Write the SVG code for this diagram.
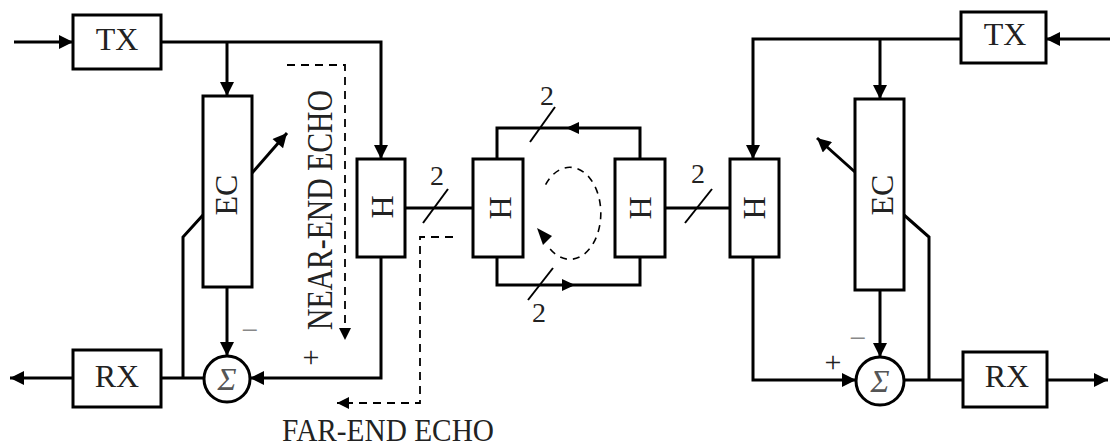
<svg xmlns="http://www.w3.org/2000/svg" width="1110" height="448" viewBox="0 0 1110 448">
<style>
.box{fill:#fff;stroke:#000;stroke-width:3}
.ln{fill:none;stroke:#000;stroke-width:3}
.sl{fill:none;stroke:#000;stroke-width:2}
.da{fill:none;stroke:#000;stroke-width:1.8;stroke-dasharray:8 6}
.dc{fill:none;stroke:#000;stroke-width:1.6;stroke-dasharray:7 6}
.t{font-family:"Liberation Serif","Times New Roman",serif;font-size:32px;fill:#222}
.s{font-family:"Liberation Serif","Times New Roman",serif;font-size:32px;fill:#555;font-style:italic}
.n{font-family:"Liberation Serif","Times New Roman",serif;font-size:28px;fill:#222}
.m{font-family:"Liberation Serif","Times New Roman",serif;font-size:30px;fill:#222}
.g{fill:#888}
.ah{fill:#000}
</style>
<defs>
<marker id="arr" viewBox="0 0 10 10" refX="10" refY="5" markerUnits="userSpaceOnUse" markerWidth="16" markerHeight="14" orient="auto">
<path d="M0,0 L10,5 L0,10 z" fill="#000"/>
</marker>
<marker id="arrs" viewBox="0 0 10 10" refX="10" refY="5" markerUnits="userSpaceOnUse" markerWidth="14" markerHeight="12" orient="auto">
<path d="M0,0 L10,5 L0,10 z" fill="#000"/>
</marker>
</defs>
<rect width="1110" height="448" fill="#fff"/>
<g id="connectors">
<path class="ln" d="M14,42 H73" marker-end="url(#arr)"/>
<path class="ln" d="M161,42 H381 V159" marker-end="url(#arr)"/>
<path class="ln" d="M227,42 V96" marker-end="url(#arr)"/>
<path class="ln" d="M252,173 L287,133" marker-end="url(#arr)"/>
<path class="ln" d="M203,215 L183,237 V378"/>
<path class="ln" d="M227,287 V356" marker-end="url(#arr)"/>
<path class="ln" d="M381,257 V378 H250" marker-end="url(#arr)"/>
<path class="ln" d="M204,378 H161"/>
<path class="ln" d="M73,378 H10" marker-end="url(#arr)"/>
<path class="ln" d="M405,208 H473"/>
<path class="ln" d="M665,208 H730"/>
<path class="ln" d="M640,159 V128 H497 V159"/>
<path class="ln" d="M497,257 V285 H640 V257"/>
<polygon class="ah" points="566,128 579,122 579,134"/>
<polygon class="ah" points="575,285 562,279 562,291"/>
<path class="sl" d="M423,223 L448,189"/>
<path class="sl" d="M685,223 L712,189"/>
<path class="sl" d="M530,142 L555,107"/>
<path class="sl" d="M528,300 L553,268"/>
<path class="ln" d="M1110,39 H1046" marker-end="url(#arr)"/>
<path class="ln" d="M961,39 H753 V159" marker-end="url(#arr)"/>
<path class="ln" d="M880,39 V99" marker-end="url(#arr)"/>
<path class="ln" d="M855,172 L817,138" marker-end="url(#arr)"/>
<path class="ln" d="M904,215 L929,237 V380"/>
<path class="ln" d="M880,290 V357" marker-end="url(#arr)"/>
<path class="ln" d="M753,257 V380 H856" marker-end="url(#arr)"/>
<path class="ln" d="M904,380 H963"/>
<path class="ln" d="M1047,380 H1108" marker-end="url(#arr)"/>
<path class="da" d="M287,65 H345 V340" marker-end="url(#arrs)"/>
<path class="da" d="M453,237 H420 V403 H337" marker-end="url(#arrs)"/>
<path class="dc" d="M545.6,184.6 A31,46 0 1 1 548,246"/>
<polygon class="ah" points="537,228 552,236 543,245"/>
</g>
<g id="tx-left"><rect class="box" x="73" y="15" width="88" height="54"/><text class="t" x="117" y="50" text-anchor="middle">TX</text></g>
<g id="rx-left"><rect class="box" x="73" y="350" width="88" height="57"/><text class="t" x="117" y="387" text-anchor="middle">RX</text></g>
<g id="ec-left"><rect class="box" x="203" y="96" width="49" height="191"/><text class="t" transform="translate(237,195) rotate(-90)" text-anchor="middle">EC</text></g>
<g id="sum-left"><circle class="box" cx="227" cy="379" r="23"/><text class="s" x="227" y="390" text-anchor="middle">Σ</text></g>
<g id="h1"><rect class="box" x="357" y="159" width="48" height="98"/><text class="t" transform="translate(393,207) rotate(-90)" text-anchor="middle">H</text></g>
<g id="h2"><rect class="box" x="473" y="159" width="50" height="98"/><text class="t" transform="translate(511,208) rotate(-90)" text-anchor="middle">H</text></g>
<g id="h3"><rect class="box" x="615" y="159" width="50" height="98"/><text class="t" transform="translate(651,208) rotate(-90)" text-anchor="middle">H</text></g>
<g id="h4"><rect class="box" x="730" y="159" width="49" height="98"/><text class="t" transform="translate(765,208) rotate(-90)" text-anchor="middle">H</text></g>
<g id="tx-right"><rect class="box" x="961" y="12" width="85" height="51"/><text class="t" x="1005" y="45" text-anchor="middle">TX</text></g>
<g id="rx-right"><rect class="box" x="963" y="352" width="84" height="55"/><text class="t" x="1007" y="387" text-anchor="middle">RX</text></g>
<g id="ec-right"><rect class="box" x="855" y="99" width="49" height="191"/><text class="t" transform="translate(893,195) rotate(-90)" text-anchor="middle">EC</text></g>
<g id="sum-right"><circle class="box" cx="880" cy="381" r="24"/><text class="s" x="880" y="392" text-anchor="middle">Σ</text></g>
<g id="labels">
<text class="t" style="font-size:35px" transform="translate(332,210) rotate(-90)" text-anchor="middle" textLength="240" lengthAdjust="spacingAndGlyphs">NEAR-END ECHO</text>
<text class="t" style="font-size:31px" x="282" y="441" textLength="212" lengthAdjust="spacingAndGlyphs">FAR-END ECHO</text>
<text class="n" x="437" y="185" text-anchor="middle">2</text>
<text class="n" x="698" y="183" text-anchor="middle">2</text>
<text class="n" x="547" y="105" text-anchor="middle">2</text>
<text class="n" x="539" y="322" text-anchor="middle">2</text>
<text class="m g" x="250" y="340" text-anchor="middle">−</text>
<text class="m" x="311" y="367" text-anchor="middle">+</text>
<text class="m g" x="858" y="348" text-anchor="middle">−</text>
<text class="m" x="833" y="372" text-anchor="middle">+</text>
</g>
</svg>
